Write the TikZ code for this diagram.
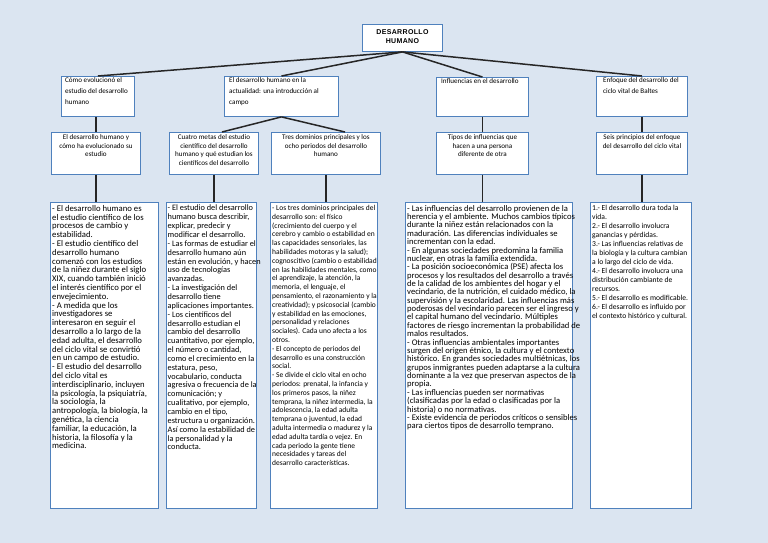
\documentclass[tikz,border=0pt]{standalone}
\usepackage{fontspec}
\setmainfont{Carlito}
\newfontfamily\titlefont[LetterSpace=5]{Liberation Sans}
\definecolor{bgblue}{HTML}{DBE5F1}
\definecolor{boxblue}{HTML}{4F81BD}
\begin{document}
\begin{tikzpicture}[x=1pt,y=-1pt,
  box/.style={draw=boxblue, line width=0.9pt, fill=white, inner sep=0pt, anchor=north west},
  link/.style={line width=1.5pt, draw=black!85},
  lbl/.style={inner sep=0pt, anchor=north west, align=left},
  rowone/.style={lbl, font=\fontsize{7.1}{10.8}\selectfont},
  clbl/.style={inner sep=0pt, anchor=north, align=center, font=\fontsize{7.1}{8.5}\selectfont}]
\fill[bgblue] (0,0) rectangle (768,543);
\useasboundingbox (0,0) rectangle (768,543);

% title
\node[box,minimum width=80pt,minimum height=27pt] (title) at (362,24) {};
\node[inner sep=0pt,align=center,font=\titlefont\bfseries\fontsize{7}{8.6}\selectfont] (titletext) at ([yshift=1.5pt]title.center) {DESARROLLO\\HUMANO};

% row 1
\node[box,minimum width=73pt,minimum height=40pt] (b1) at (61,76) {};
\node[box,minimum width=114pt,minimum height=40pt] (b2) at (224,76) {};
\node[box,minimum width=92pt,minimum height=39pt] (b3) at (436,77) {};
\node[box,minimum width=91pt,minimum height=40pt] (b4) at (596,76) {};
\node[rowone] (b1t) at ([shift={(4pt,-1.5pt)}]b1.north west) {Cómo evolucionó el\\estudio del desarrollo\\humano};
\node[rowone] (b2t) at ([shift={(5pt,-1.5pt)}]b2.north west) {El desarrollo humano en la\\actualidad: una introducción al\\campo};
\node[rowone] (b3t) at ([shift={(5pt,-1.5pt)}]b3.north west) {Influencias en el desarrollo};
\node[rowone] (b4t) at ([shift={(7pt,-1.5pt)}]b4.north west) {Enfoque del desarrollo del\\ciclo vital de Baltes};

% row 2
\node[box,minimum width=89pt,minimum height=42pt] (b5) at (51,132) {};
\node[box,minimum width=89pt,minimum height=42pt] (b6) at (169,132) {};
\node[box,minimum width=109pt,minimum height=42pt] (b7) at (271,132) {};
\node[box,minimum width=92pt,minimum height=42pt] (b8) at (436,132) {};
\node[box,minimum width=91pt,minimum height=42pt] (b9) at (596,132) {};
\node[clbl] (b5t) at ([yshift=-2.5pt]b5.north) {El desarrollo humano y\\cómo ha evolucionado su\\estudio};
\node[clbl] (b6t) at ([yshift=-2.5pt]b6.north) {Cuatro metas del estudio\\científico del desarrollo\\humano y qué estudian los\\científicos del desarrollo};
\node[clbl] (b7t) at ([yshift=-2.5pt]b7.north) {Tres dominios principales y los\\ocho periodos del desarrollo\\humano};
\node[clbl] (b8t) at ([yshift=-2.5pt]b8.north) {Tipos de influencias que\\hacen a una persona\\diferente de otra};
\node[clbl] (b9t) at ([yshift=-2.5pt]b9.north) {Seis principios del enfoque\\del desarrollo del ciclo vital};

% row 3
\node[box,minimum width=108pt,minimum height=306pt] (c1) at (50,202) {};
\node[box,minimum width=90pt,minimum height=306pt] (c2) at (166,202) {};
\node[box,minimum width=107pt,minimum height=306pt] (c3) at (270,202) {};
\node[box,minimum width=167pt,minimum height=306pt] (c4) at (405,202) {};
\node[box,minimum width=101pt,minimum height=306pt] (c5) at (590,202) {};

\node[lbl,font=\fontsize{8.7}{8.8}\selectfont] (c1t) at ([shift={(2pt,-3pt)}]c1.north west) {%
- El desarrollo humano es\\
el estudio científico de los\\
procesos de cambio y\\
estabilidad.\\
- El estudio científico del\\
desarrollo humano\\
comenzó con los estudios\\
de la niñez durante el siglo\\
XIX, cuando también inició\\
el interés científico por el\\
envejecimiento.\\
- A medida que los\\
investigadores se\\
interesaron en seguir el\\
desarrollo a lo largo de la\\
edad adulta, el desarrollo\\
del ciclo vital se convirtió\\
en un campo de estudio.\\
- El estudio del desarrollo\\
del ciclo vital es\\
interdisciplinario, incluyen\\
la psicología, la psiquiatría,\\
la sociología, la\\
antropología, la biología, la\\
genética, la ciencia\\
familiar, la educación, la\\
historia, la filosofía y la\\
medicina.};

\node[lbl,font=\fontsize{8.3}{8.85}\selectfont] (c2t) at ([shift={(1.5pt,-3pt)}]c2.north west) {%
- El estudio del desarrollo\\
humano busca describir,\\
explicar, predecir y\\
modificar el desarrollo.\\
- Las formas de estudiar el\\
desarrollo humano aún\\
están en evolución, y hacen\\
uso de tecnologías\\
avanzadas.\\
- La investigación del\\
desarrollo tiene\\
aplicaciones importantes.\\
- Los científicos del\\
desarrollo estudian el\\
cambio del desarrollo\\
cuantitativo, por ejemplo,\\
el número o cantidad,\\
como el crecimiento en la\\
estatura, peso,\\
vocabulario, conducta\\
agresiva o frecuencia de la\\
comunicación; y\\
cualitativo, por ejemplo,\\
cambio en el tipo,\\
estructura u organización.\\
Así como la estabilidad de\\
la personalidad y la\\
conducta.};

\node[lbl,font=\fontsize{7.5}{8.8}\selectfont] (c3t) at ([shift={(2pt,-3pt)}]c3.north west) {%
- Los tres dominios principales del\\
desarrollo son: el físico\\
(crecimiento del cuerpo y el\\
cerebro y cambio o estabilidad en\\
las capacidades sensoriales, las\\
habilidades motoras y la salud);\\
cognoscitivo (cambio o estabilidad\\
en las habilidades mentales, como\\
el aprendizaje, la atención, la\\
memoria, el lenguaje, el\\
pensamiento, el razonamiento y la\\
creatividad); y psicosocial (cambio\\
y estabilidad en las emociones,\\
personalidad y relaciones\\
sociales). Cada uno afecta a los\\
otros.\\
- El concepto de periodos del\\
desarrollo es una construcción\\
social.\\
- Se divide el ciclo vital en ocho\\
periodos: prenatal, la infancia y\\
los primeros pasos, la niñez\\
temprana, la niñez intermedia, la\\
adolescencia, la edad adulta\\
temprana o juventud, la edad\\
adulta intermedia o madurez y la\\
edad adulta tardía o vejez. En\\
cada periodo la gente tiene\\
necesidades y tareas del\\
desarrollo características.};

\node[lbl,font=\fontsize{8.6}{8.37}\selectfont] (c4t) at ([shift={(2pt,-3pt)}]c4.north west) {%
- Las influencias del desarrollo provienen de la\\
herencia y el ambiente. Muchos cambios típicos\\
durante la niñez están relacionados con la\\
maduración. Las diferencias individuales se\\
incrementan con la edad.\\
- En algunas sociedades predomina la familia\\
nuclear, en otras la familia extendida.\\
- La posición socioeconómica (PSE) afecta los\\
procesos y los resultados del desarrollo a través\\
de la calidad de los ambientes del hogar y el\\
vecindario, de la nutrición, el cuidado médico, la\\
supervisión y la escolaridad. Las influencias más\\
poderosas del vecindario parecen ser el ingreso y\\
el capital humano del vecindario. Múltiples\\
factores de riesgo incrementan la probabilidad de\\
malos resultados.\\
- Otras influencias ambientales importantes\\
surgen del origen étnico, la cultura y el contexto\\
histórico. En grandes sociedades multiétnicas, los\\
grupos inmigrantes pueden adaptarse a la cultura\\
dominante a la vez que preservan aspectos de la\\
propia.\\
- Las influencias pueden ser normativas\\
(clasificadas por la edad o clasificadas por la\\
historia) o no normativas.\\
- Existe evidencia de periodos críticos o sensibles\\
para ciertos tipos de desarrollo temprano.};

\node[lbl,font=\fontsize{7.6}{9.0}\selectfont] (c5t) at ([shift={(2pt,-3pt)}]c5.north west) {%
1.- El desarrollo dura toda la\\
vida.\\
2.- El desarrollo involucra\\
ganancias y pérdidas.\\
3.- Las influencias relativas de\\
la biología y la cultura cambian\\
a lo largo del ciclo de vida.\\
4.- El desarrollo involucra una\\
distribución cambiante de\\
recursos.\\
5.- El desarrollo es modificable.\\
6.- El desarrollo es influido por\\
el contexto histórico y cultural.};

% connectors
\draw[link] (title.south) -- (b1.north);
\draw[link] (title.south) -- (b2.north);
\draw[link] (title.south) -- (b3.north);
\draw[link] (title.south) -- (b4.north);
\draw[link] (b5.north |- b1.south) -- (b5.north);
\draw[link] (b2.south) -- ([xshift=8pt]b6.north);
\draw[link] (b2.south) -- ([xshift=19pt]b7.north);
\draw[link] (b3.south) -- (b8.north);
\draw[link] (b4.south) -- (b9.north);
\draw[link] (b5.south) -- (b5.south |- c1.north);
\draw[link] (b6.south) -- (b6.south |- c2.north);
\draw[link] (b7.south) -- (b7.south |- c3.north);
\draw[link] (b8.south) -- (b8.south |- c4.north);
\draw[link] (b9.south) -- (b9.south |- c5.north);
\end{tikzpicture}
\end{document}
